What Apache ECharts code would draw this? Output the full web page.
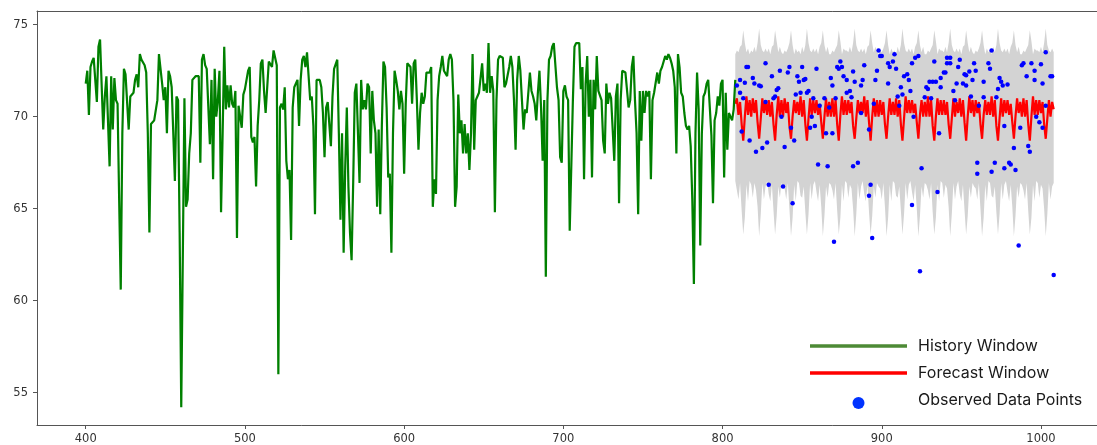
<!DOCTYPE html>
<html>
<head>
<meta charset="utf-8">
<script src="https://cdn.jsdelivr.net/npm/echarts@6/dist/echarts.min.js"></script>
<style>
html,body{margin:0;padding:0;background:#fff;}
#main{width:1097px;height:445px;}
</style>
</head>
<body>
<div id="main"></div>
<script>
// history window, one value per step starting at 400
var historyStart = 400;
var historyValues = [
  71.8, 72.5, 70.1, 72.7, 73.0, 73.2, 73.1, 70.8, 73.8, 74.2,
  74.2, 69.3, 71.1, 72.2, 72.3, 67.3, 72.2, 69.3, 72.1, 70.9,
  70.7, 65.5, 60.6, 69.1, 72.6, 72.3, 72.2, 69.3, 71.1, 71.1,
  71.3, 72.0, 72.3, 71.6, 73.4, 73.1, 73.0, 72.8, 72.4, 69.1,
  63.7, 69.6, 69.7, 69.8, 69.9, 70.9, 73.4, 73.5, 71.8, 70.9,
  71.6, 69.1, 72.5, 72.2, 71.6, 69.1, 66.5, 71.1, 70.9, 63.7,
  54.2, 62.5, 71.0, 65.1, 65.5, 68.0, 69.1, 72.0, 72.1, 72.2,
  72.2, 72.2, 67.5, 73.1, 73.4, 72.8, 72.6, 72.5, 68.5, 72.0,
  66.6, 72.6, 70.0, 70.9, 72.5, 64.8, 69.1, 73.8, 70.4, 71.7,
  70.5, 71.7, 70.7, 70.5, 71.4, 63.4, 70.6, 70.7, 69.4, 71.2,
  71.5, 71.6, 72.5, 72.7, 68.9, 68.6, 68.9, 66.2, 69.5, 70.9,
  72.9, 73.1, 71.4, 70.2, 70.3, 73.0, 72.9, 72.7, 73.6, 73.5,
  72.8, 56.0, 70.5, 70.7, 70.4, 71.6, 67.6, 66.6, 67.1, 63.3,
  70.5, 71.6, 71.6, 72.0, 69.5, 72.0, 73.1, 73.3, 72.7, 73.5,
  73.6, 70.9, 71.1, 69.5, 64.7, 72.0, 71.9, 72.0, 71.6, 70.2,
  67.8, 70.5, 70.8, 70.7, 68.4, 71.1, 72.6, 72.7, 73.1, 69.1,
  64.4, 69.1, 62.6, 67.3, 70.5, 66.2, 63.7, 62.2, 66.4, 71.3,
  71.8, 71.8, 66.4, 72.0, 70.4, 70.9, 70.4, 71.8, 71.6, 68.0,
  71.4, 69.8, 69.1, 65.1, 69.3, 64.7, 69.5, 73.0, 72.7, 70.5,
  66.7, 66.9, 62.6, 69.1, 72.5, 72.0, 71.4, 70.4, 71.4, 70.7,
  66.9, 70.7, 72.9, 72.9, 72.7, 70.7, 72.9, 73.1, 70.9, 68.2,
  70.2, 71.3, 70.7, 71.1, 72.4, 72.4, 72.4, 72.7, 65.1, 66.6,
  65.8, 70.9, 72.2, 72.7, 73.3, 72.5, 72.4, 72.2, 73.1, 73.4,
  73.1, 70.9, 65.1, 66.2, 71.2, 69.1, 69.8, 68.0, 69.6, 68.0,
  69.1, 67.1, 69.1, 73.4, 68.2, 70.9, 71.1, 71.3, 71.4, 72.9,
  71.4, 71.8, 71.3, 74.0, 71.3, 72.2, 71.4, 64.8, 70.9, 73.1,
  73.3, 73.3, 73.2, 71.6, 71.8, 71.8, 72.7, 73.3, 72.7, 70.9,
  68.2, 72.0, 73.3, 72.5, 70.9, 69.3, 70.4, 70.2, 70.2, 72.4,
  71.4, 71.1, 70.7, 69.8, 71.3, 72.5, 70.5, 67.6, 70.9, 61.3,
  70.9, 73.1, 73.3, 73.8, 74.0, 74.0, 71.6, 70.9, 67.8, 67.5,
  71.4, 71.7, 71.1, 70.9, 63.8, 67.3, 70.9, 73.8, 74.0, 74.1,
  74.0, 71.5, 72.7, 66.6, 71.8, 73.3, 70.0, 72.0, 66.7, 72.0,
  70.4, 73.3, 71.4, 71.3, 70.9, 68.7, 68.0, 71.8, 70.7, 71.3,
  71.0, 71.1, 67.6, 71.1, 71.8, 65.3, 70.9, 72.5, 72.5, 72.4,
  72.4, 70.5, 70.9, 72.7, 73.3, 70.9, 69.1, 64.7, 71.4, 68.7,
  71.4, 70.2, 71.4, 71.1, 71.4, 66.6, 70.9, 71.3, 71.4, 72.4,
  71.8, 72.5, 72.7, 73.0, 73.3, 73.1, 73.4, 73.2, 72.9, 72.5,
  71.6, 68.0, 73.4, 72.7, 71.3, 71.1, 70.2, 69.5, 69.3, 69.5,
  68.4, 65.5, 60.9, 69.1, 72.4, 70.4, 63.0, 69.1, 71.1, 71.3,
  71.8, 72.0, 72.0, 69.0, 65.3, 69.8, 70.2, 71.1, 70.6, 71.8,
  72.0, 66.7, 71.3, 68.2, 70.2, 70.2, 69.8, 70.4, 72.0
];

// forecast window, one value per step starting at 808
var forecastStart = 808;
var forecastValues = [
  70.7, 71.0, 70.1, 70.8, 69.6, 68.7, 70.0, 71.1, 70.1, 70.9,
  70.0, 71.0, 70.2, 70.9, 69.7, 68.8, 69.9, 71.0, 70.2, 70.9,
  70.1, 70.9, 70.0, 70.8, 69.6, 68.7, 70.1, 71.1, 70.0, 70.9,
  70.0, 71.0, 70.2, 70.8, 69.5, 68.8, 70.0, 70.9, 70.2, 70.8,
  70.1, 71.1, 70.0, 70.9, 69.6, 68.7, 69.9, 71.0, 70.1, 70.9,
  70.2, 70.9, 70.1, 70.7, 69.7, 68.8, 70.0, 71.0, 70.0, 70.8,
  70.0, 71.0, 70.0, 70.9, 69.6, 68.7, 70.1, 71.1, 70.1, 70.9,
  70.1, 70.9, 70.2, 70.8, 69.5, 68.8, 69.9, 70.9, 70.2, 70.8,
  70.2, 71.1, 70.0, 70.9, 69.7, 68.7, 70.0, 71.0, 70.0, 70.9,
  70.0, 70.9, 70.1, 70.8, 69.6, 68.8, 70.0, 71.0, 70.1, 70.8,
  70.1, 71.0, 70.0, 70.9, 69.6, 68.7, 69.9, 71.1, 70.2, 70.9,
  70.2, 70.9, 70.2, 70.7, 69.7, 68.8, 70.1, 70.9, 70.0, 70.8,
  70.0, 71.1, 70.0, 70.9, 69.5, 68.7, 70.0, 71.0, 70.1, 70.9,
  70.1, 70.9, 70.1, 70.8, 69.6, 68.8, 69.9, 71.0, 70.0, 70.8,
  70.2, 71.0, 70.0, 70.9, 69.7, 68.7, 70.0, 71.1, 70.2, 70.9,
  70.0, 70.9, 70.2, 70.8, 69.6, 68.8, 70.1, 70.9, 70.1, 70.8,
  70.1, 71.1, 70.0, 70.9, 69.5, 68.7, 69.9, 71.0, 70.0, 70.9,
  70.2, 70.9, 70.1, 70.7, 69.7, 68.8, 70.0, 71.0, 70.2, 70.8,
  70.0, 71.0, 70.0, 70.9, 69.6, 68.7, 70.0, 71.1, 70.1, 70.9,
  70.1, 70.9, 70.2, 70.8, 69.6, 68.8, 69.9, 70.9, 70.0, 70.8,
  70.4
];

// uncertainty band around the forecast
var bandUpper = [
  73.4, 73.6, 73.5, 73.8, 73.9, 74.7, 74.0, 73.5, 73.7, 73.4,
  73.6, 73.5, 73.8, 73.5, 74.0, 74.8, 73.9, 73.6, 73.5, 73.7,
  73.5, 73.7, 73.4, 73.8, 73.9, 74.7, 74.1, 73.5, 73.8, 73.5,
  73.4, 73.6, 73.5, 73.7, 74.0, 74.7, 73.9, 73.4, 73.7, 73.5,
  73.6, 73.4, 73.8, 73.5, 73.9, 74.8, 74.0, 73.6, 73.5, 73.7,
  73.5, 73.7, 73.4, 73.8, 74.0, 74.7, 73.9, 73.5, 73.8, 73.4,
  73.4, 73.6, 73.5, 73.7, 73.9, 74.7, 74.1, 73.4, 73.7, 73.6,
  73.6, 73.5, 73.8, 73.5, 74.0, 74.8, 73.9, 73.6, 73.5, 73.7,
  73.5, 73.7, 73.4, 73.8, 73.9, 74.7, 74.0, 73.5, 73.8, 73.5,
  73.4, 73.6, 73.5, 73.7, 74.0, 74.7, 73.9, 73.4, 73.7, 73.5,
  73.6, 73.4, 73.8, 73.5, 73.9, 74.8, 74.0, 73.6, 73.5, 73.7,
  73.5, 73.7, 73.4, 73.8, 74.0, 74.7, 73.9, 73.5, 73.8, 73.4,
  73.4, 73.6, 73.5, 73.7, 73.9, 74.7, 74.1, 73.4, 73.7, 73.6,
  73.6, 73.5, 73.8, 73.5, 74.0, 74.8, 73.9, 73.6, 73.5, 73.7,
  73.5, 73.7, 73.4, 73.8, 73.9, 74.7, 74.0, 73.5, 73.8, 73.5,
  73.4, 73.6, 73.5, 73.7, 74.0, 74.7, 73.9, 73.4, 73.7, 73.5,
  73.6, 73.4, 73.8, 73.5, 73.9, 74.8, 74.0, 73.6, 73.5, 73.7,
  73.5, 73.7, 73.4, 73.8, 74.0, 74.7, 73.9, 73.5, 73.8, 73.4,
  73.4, 73.6, 73.5, 73.7, 73.9, 74.7, 74.1, 73.4, 73.7, 73.6,
  73.6, 73.5, 73.8, 73.5, 74.0, 74.8, 73.9, 73.6, 73.5, 73.7,
  73.5
];
var bandLower = [
  66.5, 66.0, 65.5, 66.4, 64.9, 63.6, 64.5, 66.3, 65.4, 66.5,
  66.3, 65.6, 66.4, 66.0, 65.1, 63.5, 64.7, 66.4, 65.5, 66.2,
  66.5, 65.8, 65.4, 66.3, 64.9, 63.6, 64.6, 66.2, 65.6, 66.4,
  66.2, 66.1, 65.5, 66.4, 65.0, 63.5, 64.5, 66.3, 65.4, 66.5,
  66.4, 65.7, 65.6, 66.2, 64.8, 63.6, 64.7, 66.4, 65.5, 66.3,
  66.5, 65.9, 65.4, 66.3, 65.1, 63.5, 64.6, 66.2, 65.6, 66.4,
  66.3, 66.0, 65.5, 66.4, 64.9, 63.6, 64.5, 66.3, 65.4, 66.5,
  66.4, 65.6, 66.3, 66.1, 65.0, 63.5, 64.7, 66.4, 65.5, 66.2,
  66.5, 65.8, 65.4, 66.3, 64.8, 63.6, 64.6, 66.2, 65.6, 66.4,
  66.2, 66.1, 65.5, 66.4, 65.1, 63.5, 64.5, 66.3, 65.4, 66.5,
  66.4, 65.7, 65.6, 66.2, 64.9, 63.6, 64.7, 66.4, 65.5, 66.3,
  66.5, 65.9, 65.4, 66.3, 65.0, 63.5, 64.6, 66.2, 65.6, 66.4,
  66.3, 66.0, 65.5, 66.4, 64.8, 63.6, 64.5, 66.3, 65.4, 66.5,
  66.4, 65.6, 66.3, 66.1, 65.1, 63.5, 64.7, 66.4, 65.5, 66.2,
  66.5, 65.8, 65.4, 66.3, 64.9, 63.6, 64.6, 66.2, 65.6, 66.4,
  66.2, 66.1, 65.5, 66.4, 65.0, 63.5, 64.5, 66.3, 65.4, 66.5,
  66.4, 65.7, 65.6, 66.2, 64.8, 63.6, 64.7, 66.4, 65.5, 66.3,
  66.5, 65.9, 65.4, 66.3, 65.1, 63.5, 64.6, 66.2, 65.6, 66.4,
  66.3, 66.0, 65.5, 66.4, 64.9, 63.6, 64.5, 66.3, 65.4, 66.5,
  66.4, 65.6, 66.3, 66.1, 65.0, 63.5, 64.7, 66.4, 65.5, 66.2,
  66.4
];

// observed points inside the forecast window
var observedX = [
  809, 811, 811, 812, 813, 814, 815, 816, 817, 819, 820, 821, 823, 824, 825, 827, 827, 828, 829, 831,
  832, 833, 834, 835, 836, 837, 838, 839, 841, 842, 843, 844, 845, 846, 847, 848, 849, 850, 851, 852,
  853, 854, 855, 856, 857, 858, 859, 860, 861, 864, 865, 866, 867, 868, 869, 869, 870, 871, 872, 873,
  874, 875, 876, 878, 878, 880, 881, 882, 882, 883, 885, 887, 887, 888, 889, 892, 892, 893, 894, 895,
  896, 897, 898, 899, 900, 904, 904, 905, 907, 908, 909, 910, 911, 912, 913, 914, 916, 917, 918, 919,
  919, 920, 921, 923, 924, 925, 927, 928, 929, 930, 931, 932, 933, 934, 935, 936, 937, 937, 939, 940,
  941, 941, 943, 943, 945, 946, 947, 948, 949, 951, 952, 953, 953, 955, 956, 957, 958, 959, 960, 960,
  961, 964, 964, 967, 968, 969, 969, 971, 972, 973, 974, 975, 976, 977, 977, 979, 980, 981, 983, 984,
  986, 987, 988, 989, 991, 992, 993, 994, 996, 996, 997, 999, 1000, 1001, 1001, 1003, 1003, 1006, 1007, 1008
];
var observedY = [
  71.7, 72.0, 71.3, 69.2, 71.0, 71.85, 72.7, 72.7, 68.7, 72.1, 71.8, 68.1, 71.7, 71.65, 68.3, 72.9, 70.8, 68.6, 66.3, 72.2,
  71.0, 71.1, 71.45, 71.55, 72.5, 70.0, 66.2, 68.35, 72.4, 72.7, 69.4, 65.3, 68.7, 71.2, 72.2, 71.9, 71.3, 72.7, 72.0, 72.05,
  71.3, 71.4, 69.4, 70.0, 71.0, 69.5, 72.6, 67.4, 70.6, 71.0, 69.1, 67.3, 70.5, 72.1, 71.7, 69.1, 63.2, 71.0, 72.7, 72.6,
  73.0, 72.7, 72.2, 72.0, 71.3, 71.4, 71.05, 72.45, 67.3, 71.9, 67.5, 71.7, 70.2, 72.0, 72.8, 69.3, 65.7, 66.3, 63.4, 70.7,
  72.0, 72.5, 73.6, 73.3, 73.3, 72.9, 71.8, 72.7, 73.0, 73.4, 72.6, 71.1, 70.6, 71.6, 71.2, 72.2, 72.3, 72.0, 71.4, 72.9,
  65.2, 70.0, 73.2, 73.3, 61.6, 67.2, 71.05, 71.6, 71.5, 71.9, 71.0, 71.9, 73.0, 71.9, 65.9, 69.1, 72.1, 71.6, 72.4, 72.4,
  73.2, 72.9, 73.2, 72.9, 71.4, 70.9, 71.8, 72.7, 73.1, 71.8, 72.3, 72.25, 71.7, 72.45, 71.1, 72.0, 72.9, 72.5, 67.5, 66.9,
  70.6, 71.05, 71.9, 72.9, 72.6, 73.6, 67.0, 67.5, 71.05, 71.5, 72.1, 71.9, 71.7, 69.5, 67.2, 71.75, 67.5, 67.4, 68.3, 67.1,
  63.0, 69.4, 72.8, 72.9, 72.2, 68.4, 68.1, 72.9, 72.5, 72.0, 70.0, 69.7, 72.85, 71.8, 69.4, 73.5, 70.6, 72.2, 72.2, 61.4
];

var xTicks = [400, 500, 600, 700, 800, 900, 1000];
var yTicks = [55, 60, 65, 70, 75];
var legendNames = ['History Window', 'Forecast Window', 'Observed Data Points'];

var myChart = echarts.init(document.getElementById('main'));

function toPairs(start, values) {
  var res = [];
  for (var i = 0; i < values.length; i++) {
    res.push([start + i, values[i]]);
  }
  return res;
}

var historyData = toPairs(historyStart, historyValues);
var forecastData = toPairs(forecastStart, forecastValues);
var bandData = [];
for (var i = 0; i < bandUpper.length; i++) {
  bandData.push([forecastStart + i, bandLower[i], bandUpper[i]]);
}
var observedData = [];
for (var j = 0; j < observedX.length; j++) {
  observedData.push([observedX[j], observedY[j]]);
}

// band is one polygon: upper edge left to right, lower edge back
function renderBand(params, api) {
  if (params.dataIndex !== 0) {
    return null;
  }
  var pts = [];
  for (var k = 0; k < bandData.length; k++) {
    pts.push(api.coord([bandData[k][0], bandData[k][2]]));
  }
  for (var m = bandData.length - 1; m >= 0; m--) {
    pts.push(api.coord([bandData[m][0], bandData[m][1]]));
  }
  return {
    type: 'polygon',
    shape: { points: pts },
    style: { fill: '#d3d3d3', stroke: null }
  };
}

var axisColor = '#555';
var labelStyle = { color: '#333', fontSize: 11.5, fontFamily: 'DejaVu Sans' };
var legendFont = { fontSize: 16, fontFamily: 'Inter', fill: '#1a1a1a', verticalAlign: 'middle' };

var option = {
  animation: false,
  backgroundColor: '#fff',
  grid: { left: 37, top: 11, right: 0, bottom: 20 },
  xAxis: [
    {
      type: 'value',
      min: 369.4,
      max: 1035.2,
      axisLine: { show: true, onZero: false, lineStyle: { color: axisColor, width: 1 } },
      axisTick: { show: true, customValues: xTicks, length: 4, lineStyle: { color: axisColor } },
      axisLabel: Object.assign({
        customValues: xTicks,
        margin: 8,
        formatter: function (v) { return String(v); }
      }, labelStyle),
      splitLine: { show: false }
    },
    {
      type: 'value',
      position: 'top',
      min: 369.4,
      max: 1035.2,
      axisLine: { show: true, onZero: false, lineStyle: { color: axisColor, width: 1 } },
      axisTick: { show: false },
      axisLabel: { show: false },
      splitLine: { show: false }
    }
  ],
  yAxis: {
    type: 'value',
    min: 53.24,
    max: 75.745,
    axisLine: { show: true, onZero: false, lineStyle: { color: axisColor, width: 1 } },
    axisTick: { show: true, customValues: yTicks, length: 4, lineStyle: { color: axisColor } },
    axisLabel: Object.assign({ customValues: yTicks, margin: 9 }, labelStyle),
    splitLine: { show: false }
  },
  series: [
    {
      name: 'band',
      type: 'custom',
      renderItem: renderBand,
      data: bandData,
      encode: { x: 0, y: [1, 2] },
      silent: true,
      z: 1
    },
    {
      name: legendNames[1],
      type: 'line',
      data: forecastData,
      showSymbol: false,
      lineStyle: { color: '#ff0000', width: 2.2 },
      itemStyle: { color: '#ff0000' },
      z: 3
    },
    {
      name: legendNames[0],
      type: 'line',
      data: historyData,
      showSymbol: false,
      lineStyle: { color: '#008000', width: 2.2 },
      itemStyle: { color: '#008000' },
      z: 4
    },
    {
      name: legendNames[2],
      type: 'scatter',
      data: observedData,
      symbolSize: 4.5,
      itemStyle: { color: '#0000ff', opacity: 1 },
      z: 5
    }
  ],
  graphic: [
    { type: 'line', shape: { x1: 810, y1: 346, x2: 907, y2: 346 }, style: { stroke: '#4d8a35', lineWidth: 3.5 } },
    { type: 'line', shape: { x1: 810, y1: 373, x2: 907, y2: 373 }, style: { stroke: '#ff0000', lineWidth: 3.5 } },
    { type: 'circle', shape: { cx: 858.5, cy: 403, r: 6 }, style: { fill: '#0033ff' } },
    { type: 'text', x: 918, y: 346, style: Object.assign({ text: legendNames[0] }, legendFont) },
    { type: 'text', x: 918, y: 373, style: Object.assign({ text: legendNames[1] }, legendFont) },
    { type: 'text', x: 918, y: 400, style: Object.assign({ text: legendNames[2] }, legendFont) }
  ]
};

myChart.setOption(option);
</script>
</body>
</html>
